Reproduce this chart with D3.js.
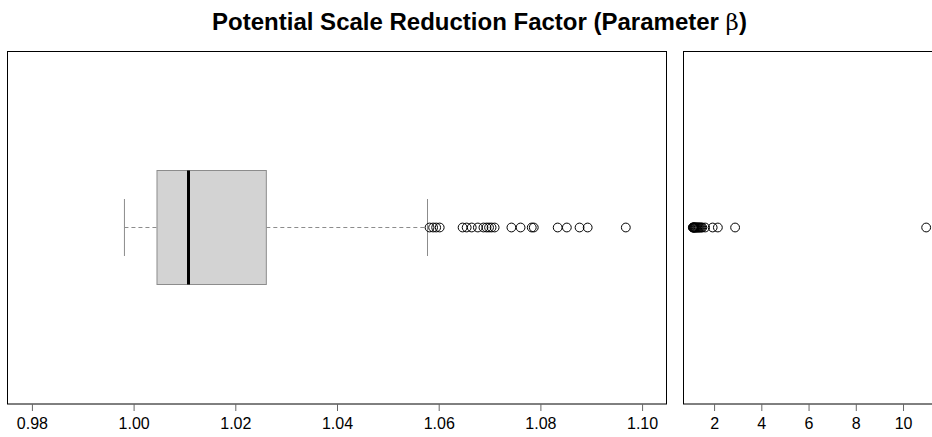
<!DOCTYPE html>
<html>
<head>
<meta charset="utf-8">
<script src="https://cdn.jsdelivr.net/npm/d3@7"></script>
<style>
  html, body { margin: 0; padding: 0; background: #fff; }
  svg { display: block; }
</style>
</head>
<body>
<svg id="chart" width="932" height="437"></svg>
<script>
// ---- data ----
const titleText = "Potential Scale Reduction Factor (Parameter ";
const titleSymbol = "\u03B2";
// lower whisker, Q1, median, Q3, upper whisker
const boxStats = [0.9982, 1.0046, 1.0108, 1.0261, 1.0578];
const leftOutliers = [1.0582, 1.0589, 1.0595, 1.0602,
  1.0647, 1.0655, 1.0665, 1.0677, 1.0688, 1.0694, 1.0699, 1.0704, 1.0710,
  1.0743, 1.0761, 1.0783, 1.0787,
  1.0834, 1.0852, 1.0877, 1.0893,
  1.0968];
const rightValues = [1.10, 1.11, 1.12, 1.14, 1.15, 1.17, 1.19, 1.21, 1.23, 1.26,
  1.29, 1.32, 1.35, 1.38, 1.42, 1.46, 1.50, 1.62, 1.94, 2.16, 2.89, 10.98];
const leftTicks = [0.98, 1.00, 1.02, 1.04, 1.06, 1.08, 1.10];
const rightTicks = [2, 4, 6, 8, 10];
const leftLimits = [0.98, 1.10];

// ---- layout ----
const svg = d3.select("#chart");
const yTop = 51, yBottom = 404;
const yMid = (yTop + yBottom) / 2;
const fontFam = "'Liberation Sans', Arial, Helvetica, sans-serif";

function ext(lim) { const r = lim[1] - lim[0]; return [lim[0] - 0.04 * r, lim[1] + 0.04 * r]; }
const xL = d3.scaleLinear().domain(ext(leftLimits)).range([7.5, 666.5]);
const xR = d3.scaleLinear().domain(ext(d3.extent(rightValues))).range([683.5, 935.5]);

// title
const title = svg.append("text")
  .attr("x", 479.5).attr("y", 30)
  .attr("text-anchor", "middle")
  .attr("font-family", fontFam)
  .attr("font-size", 24)
  .attr("font-weight", "bold")
  .attr("fill", "#000");
title.append("tspan").text(titleText);
title.append("tspan").attr("font-weight", "normal").attr("font-family", "'DejaVu Serif', serif").attr("font-size", 23).text(titleSymbol);
title.append("tspan").text(")");

// ---- left panel ----
const gL = svg.append("g");
const boxH = 114, stapleH = 57;
// whiskers
gL.append("line")
  .attr("x1", xL(boxStats[0])).attr("x2", xL(boxStats[1]))
  .attr("y1", yMid).attr("y2", yMid)
  .attr("stroke", "#8c8c8c").attr("stroke-width", 1).attr("stroke-dasharray", "4,3");
gL.append("line")
  .attr("x1", xL(boxStats[3])).attr("x2", xL(boxStats[4]))
  .attr("y1", yMid).attr("y2", yMid)
  .attr("stroke", "#8c8c8c").attr("stroke-width", 1).attr("stroke-dasharray", "4,3");
// staples
[boxStats[0], boxStats[4]].forEach(v => {
  gL.append("line")
    .attr("x1", xL(v)).attr("x2", xL(v))
    .attr("y1", yMid - stapleH / 2).attr("y2", yMid + stapleH / 2)
    .attr("stroke", "#8c8c8c").attr("stroke-width", 1);
});
// box
gL.append("rect")
  .attr("x", xL(boxStats[1])).attr("y", yMid - boxH / 2)
  .attr("width", xL(boxStats[3]) - xL(boxStats[1])).attr("height", boxH)
  .attr("fill", "#d3d3d3").attr("stroke", "#8c8c8c").attr("stroke-width", 1);
// median
gL.append("line")
  .attr("x1", xL(boxStats[2])).attr("x2", xL(boxStats[2]))
  .attr("y1", yMid - boxH / 2).attr("y2", yMid + boxH / 2)
  .attr("stroke", "#000").attr("stroke-width", 3);
// outliers
gL.selectAll("circle.out").data(leftOutliers).enter().append("circle")
  .attr("class", "out")
  .attr("cx", d => xL(d)).attr("cy", yMid).attr("r", 4.4)
  .attr("fill", "none").attr("stroke", "#000").attr("stroke-width", 1);
// frame
gL.append("rect")
  .attr("x", 7.5).attr("y", yTop + 0.5).attr("width", 659).attr("height", yBottom - yTop - 0.5)
  .attr("fill", "none").attr("stroke", "#000").attr("stroke-width", 1);
// axis
const axL = svg.append("g").attr("transform", `translate(0,${yBottom})`)
  .call(d3.axisBottom(xL).tickValues(leftTicks).tickFormat(d3.format(".2f")).tickSize(7).tickPadding(7));

// ---- right panel ----
const gR = svg.append("g");
gR.selectAll("circle.pt").data(rightValues).enter().append("circle")
  .attr("class", "pt")
  .attr("cx", d => xR(d)).attr("cy", yMid).attr("r", 4.4)
  .attr("fill", "none").attr("stroke", "#000").attr("stroke-width", 1);
gR.append("rect")
  .attr("x", 683.5).attr("y", yTop + 0.5).attr("width", 252).attr("height", yBottom - yTop - 0.5)
  .attr("fill", "none").attr("stroke", "#000").attr("stroke-width", 1);
const axR = svg.append("g").attr("transform", `translate(0,${yBottom})`)
  .call(d3.axisBottom(xR).tickValues(rightTicks).tickFormat(d3.format("d")).tickSize(7).tickPadding(7));

[axL, axR].forEach(ax => {
  ax.select(".domain").remove();
  ax.selectAll(".tick line").attr("stroke", "#666");
  ax.selectAll(".tick text")
    .attr("font-family", fontFam).attr("font-size", 16).attr("fill", "#000");
});
</script>
</body>
</html>
